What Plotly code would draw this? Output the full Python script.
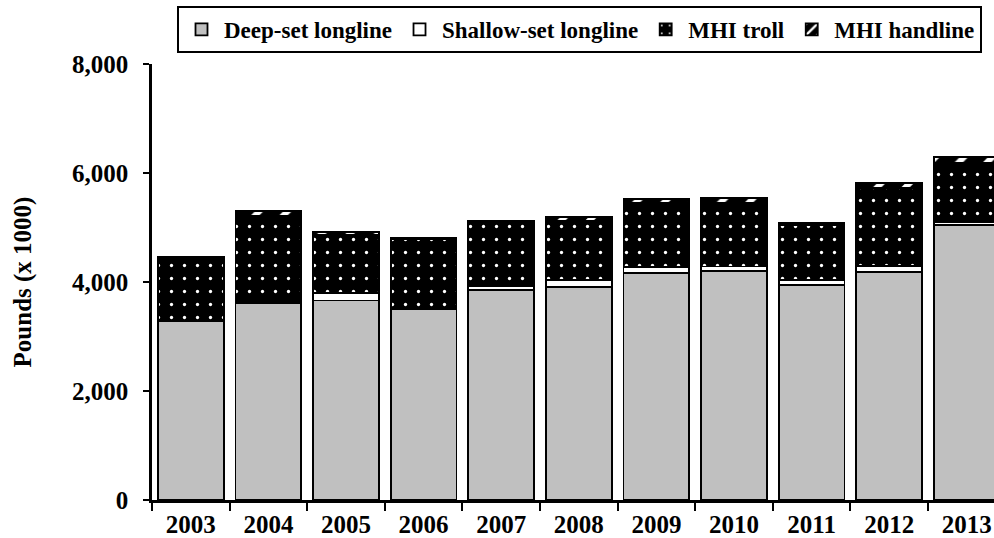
import plotly.graph_objects as go

years = ["2003", "2004", "2005", "2006", "2007", "2008", "2009", "2010", "2011", "2012", "2013"]
deep_set = [3280, 3610, 3660, 3500, 3855, 3915, 4160, 4200, 3945, 4190, 5045]
shallow_set = [0, 0, 135, 0, 65, 120, 110, 85, 90, 100, 60]
mhi_troll = [1140, 1600, 1070, 1285, 1190, 1095, 1180, 1160, 1005, 1440, 1075]
mhi_handline = [45, 100, 50, 30, 20, 70, 70, 100, 50, 90, 120]

y_ticks = [0, 2000, 4000, 6000, 8000]

FONT = "Liberation Serif"
line = dict(color="black", width=1.8)

fig = go.Figure()
fig.add_trace(go.Bar(name="Deep-set longline", x=years, y=deep_set,
                     marker=dict(color="#C0C0C0", line=line)))
fig.add_trace(go.Bar(name="Shallow-set longline", x=years, y=shallow_set,
                     marker=dict(color="white", line=line)))
fig.add_trace(go.Bar(name="MHI troll", x=years, y=mhi_troll,
                     marker=dict(color="black", line=line,
                                 pattern=dict(shape=".", bgcolor="black", fgcolor="white",
                                              size=13, solidity=0.05, fillmode="replace"))))
fig.add_trace(go.Bar(name="MHI handline", x=years, y=mhi_handline,
                     marker=dict(color="black", line=line,
                                 pattern=dict(shape="/", bgcolor="black", fgcolor="white",
                                              size=20, solidity=0.3, fillmode="replace"))))

PLOT_H = 538 - 64 - 38

fig.update_layout(
    barmode="stack",
    bargap=0.153,
    width=994, height=538,
    margin=dict(l=152, r=0, t=64, b=38),
    paper_bgcolor="white", plot_bgcolor="white",
    font=dict(family=FONT, size=25, color="black", weight="bold"),
    showlegend=True,
    legend=dict(
        orientation="h",
        x=(177 - 152) / (994 - 152), y=1 + (64 - 6) / PLOT_H,
        xanchor="left", yanchor="top",
        bordercolor="black", borderwidth=2,
        itemwidth=35,
        font=dict(family=FONT, size=23, color="black", weight="bold"),
        traceorder="normal",
    ),
    xaxis=dict(
        type="category",
        range=[-0.5, 10.35],
        tickson="boundaries",
        ticks="outside", ticklen=8, tickwidth=2, tickcolor="black",
        showline=True, linecolor="black", linewidth=2.5,
        showgrid=False, zeroline=False, automargin=False,
        tickfont=dict(family=FONT, size=25, color="black", weight="bold"),
    ),
    yaxis=dict(
        range=[0, 8000],
        tickvals=y_ticks,
        tickformat=",",
        ticks="outside", ticklen=6, tickwidth=2, tickcolor="black",
        ticklabelstandoff=10,
        showline=True, linecolor="black", linewidth=2.5,
        showgrid=False, zeroline=False, automargin=False,
        tickfont=dict(family=FONT, size=25, color="black", weight="bold"),
        title=dict(text="Pounds (x 1000)", standoff=34,
                   font=dict(family=FONT, size=25, color="black", weight="bold")),
    ),
)

fig.write_html("out.html",
               config={"displayModeBar": False},
               post_script="document.body.style.margin='0';document.body.style.overflow='hidden';")
